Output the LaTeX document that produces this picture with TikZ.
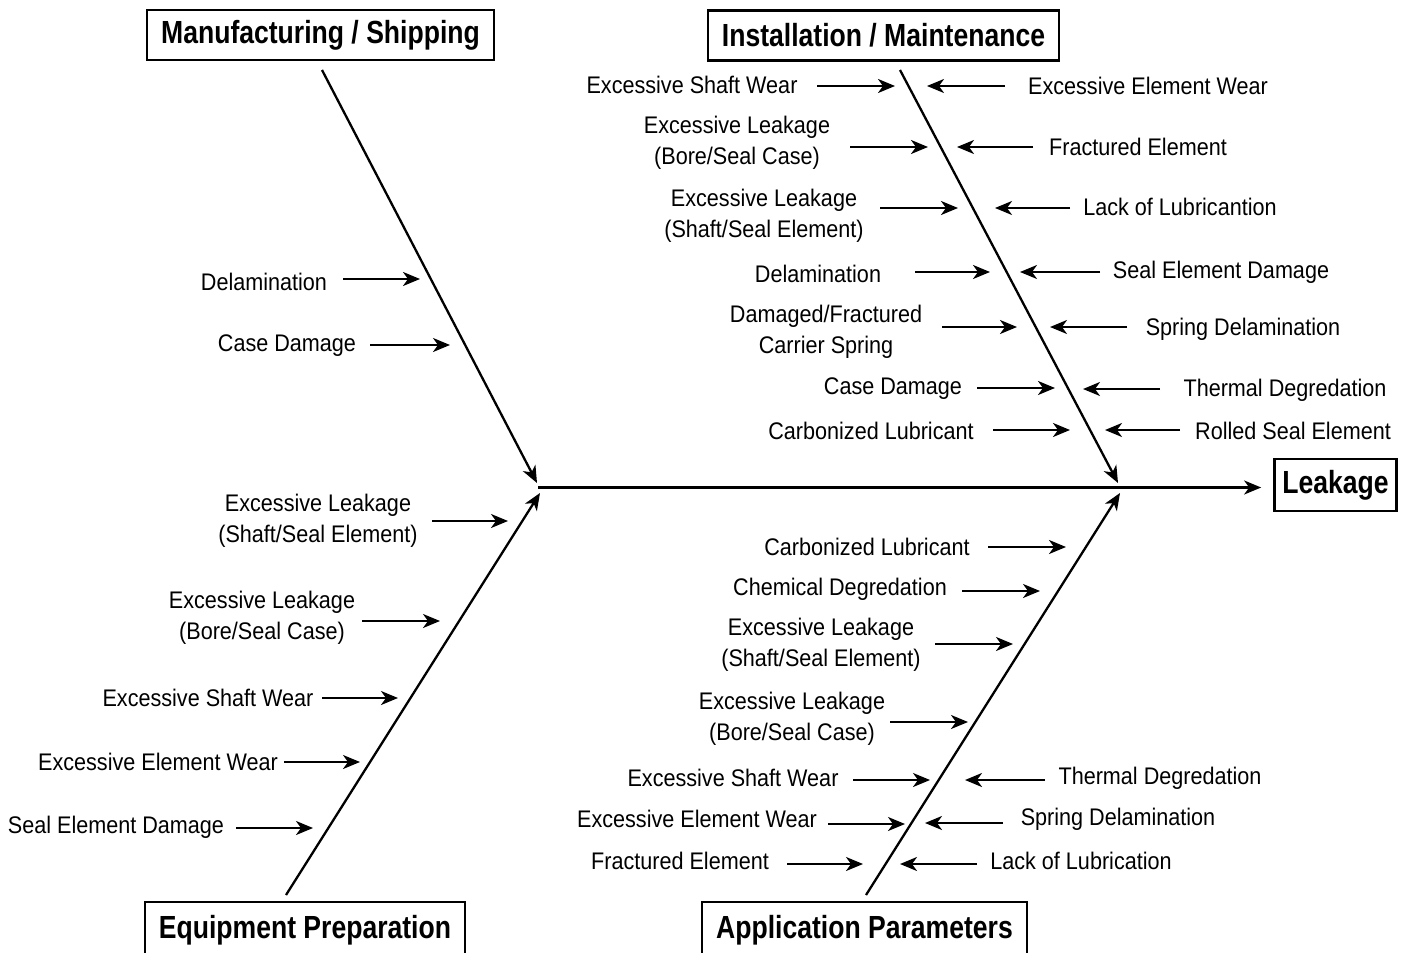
\documentclass[tikz,border=0pt]{standalone}
\usepackage{fontspec}
\setmainfont{Liberation Sans}[FakeStretch=0.9]
\newfontfamily\headfont{Liberation Sans}[FakeStretch=0.83]
\usepackage{tikz}
\usetikzlibrary{arrows.meta,positioning}
\tikzset{
  cause/.style={align=center,inner sep=0pt,font=\fontsize{12}{15.5}\selectfont},
  category/.style={draw,line width=1.2pt,inner xsep=7pt,inner ysep=0pt,minimum height=25pt,
                   font=\headfont\bfseries\fontsize{16}{19}\selectfont},
  causearr/.style={-{Stealth[length=8.5pt,width=7pt,inset=2.5pt]},line width=1.1pt},
  bone/.style={-{Stealth[length=8.5pt,width=7pt,inset=2.5pt]},line width=1.15pt},
}

\begin{document}
\begin{tikzpicture}[x=0.5pt,y=-0.5pt]
  \useasboundingbox (0,0) rectangle (1406,952);
  \clip (0,0) rectangle (1406,952);
  % kategoriak
  \node[category] (manuf) at (320.5,35) {Manufacturing / Shipping};
  \node[category] (install) at (883.5,35.5) {Installation / Maintenance};
  \node[category,minimum height=28pt] (equip) at (305,930) {Equipment Preparation};
  \node[category,minimum height=28pt] (appl) at (864.5,930) {Application Parameters};
  \node[category,minimum height=26pt,inner xsep=4pt] (leak) at (1335.5,485) {Leakage};
  % gerinc
  \coordinate (head) at (538,487.5);
  \draw[bone,shorten >=6pt] (head) -- (head -| leak.west);
  \coordinate (mtop) at (322,70);   \coordinate (mend) at (537,483);
  \coordinate (etop) at (286,895);  \coordinate (eend) at (540,493);
  \coordinate (itop) at (900,70);   \coordinate (iend) at (1118,483);
  \coordinate (atop) at (866,895);  \coordinate (aend) at (1120,493);
  \draw[bone] (mtop) -- (mend);
  \draw[bone] (etop) -- (eend);
  \draw[bone] (itop) -- (iend);
  \draw[bone] (atop) -- (aend);
  % 1. manufacturing / shipping
  \foreach \tx/\ty/\ax/\bx/\ay/\txt [count=\i] in {
      264/282/343/420/279/{Delamination},
      287/346/370/450/345/{Case Damage}}{
    \node[cause] (m\i) at (\tx,\ty) {\txt};
    \coordinate (ma\i) at (\ax,\ay); \coordinate (mb\i) at (\bx,\ay);
    \draw[causearr] (ma\i) -- (mb\i);
  }
  % 2. equipment preparation
  \foreach \tx/\ty/\ax/\bx/\ay/\txt [count=\i] in {
      318/521/432/508/521/{Excessive Leakage\\(Shaft/Seal Element)},
      262/618/362/440/621/{Excessive Leakage\\(Bore/Seal Case)},
      208/698/322/398/698/{Excessive Shaft Wear},
      158/762/284/360/762/{Excessive Element Wear},
      116/827/236/313/828/{Seal Element Damage}}{
    \node[cause] (e\i) at (\tx,\ty) {\txt};
    \coordinate (ea\i) at (\ax,\ay); \coordinate (eb\i) at (\bx,\ay);
    \draw[causearr] (ea\i) -- (eb\i);
  }
  % 3. installation / maintenance
  \foreach \tx/\ty/\ax/\bx/\ay/\txt [count=\i] in {
      692/85/817/895/86/{Excessive Shaft Wear},
      737/143/850/928/147/{Excessive Leakage\\(Bore/Seal Case)},
      764/216/880/958/208/{Excessive Leakage\\(Shaft/Seal Element)},
      818/274/915/990/272/{Delamination},
      826/332/942/1017/327/{Damaged/Fractured\\Carrier Spring},
      893/389/977/1055/388/{Case Damage},
      871/431/993/1070/430/{Carbonized Lubricant},
      1148/86/1005/927/86/{Excessive Element Wear},
      1138/147/1033/957/147/{Fractured Element},
      1180/207/1070/995/208/{Lack of Lubricantion},
      1221/272/1100/1020/272/{Seal Element Damage},
      1243/329/1127/1050/327/{Spring Delamination},
      1285/390/1160/1083/389/{Thermal Degredation},
      1293/431/1180/1105/430/{Rolled Seal Element}}{
    \node[cause] (i\i) at (\tx,\ty) {\txt};
    \coordinate (ia\i) at (\ax,\ay); \coordinate (ib\i) at (\bx,\ay);
    \draw[causearr] (ia\i) -- (ib\i);
  }
  % 4. application parameters
  \foreach \tx/\ty/\ax/\bx/\ay/\txt [count=\i] in {
      867/547/988/1066/547/{Carbonized Lubricant},
      840/589/962/1040/591/{Chemical Degredation},
      821/645/935/1013/644/{Excessive Leakage\\(Shaft/Seal Element)},
      792/719/890/968/722/{Excessive Leakage\\(Bore/Seal Case)},
      733/778/853/930/780/{Excessive Shaft Wear},
      697/819/828/905/824/{Excessive Element Wear},
      680/861/787/863/864/{Fractured Element},
      1160/778/1045/965/780/{Thermal Degredation},
      1118/819/1003/925/823/{Spring Delamination},
      1081/861/977/900/864/{Lack of Lubrication}}{
    \node[cause] (a\i) at (\tx,\ty) {\txt};
    \coordinate (aa\i) at (\ax,\ay); \coordinate (ab\i) at (\bx,\ay);
    \draw[causearr] (aa\i) -- (ab\i);
  }
\end{tikzpicture}
\end{document}
